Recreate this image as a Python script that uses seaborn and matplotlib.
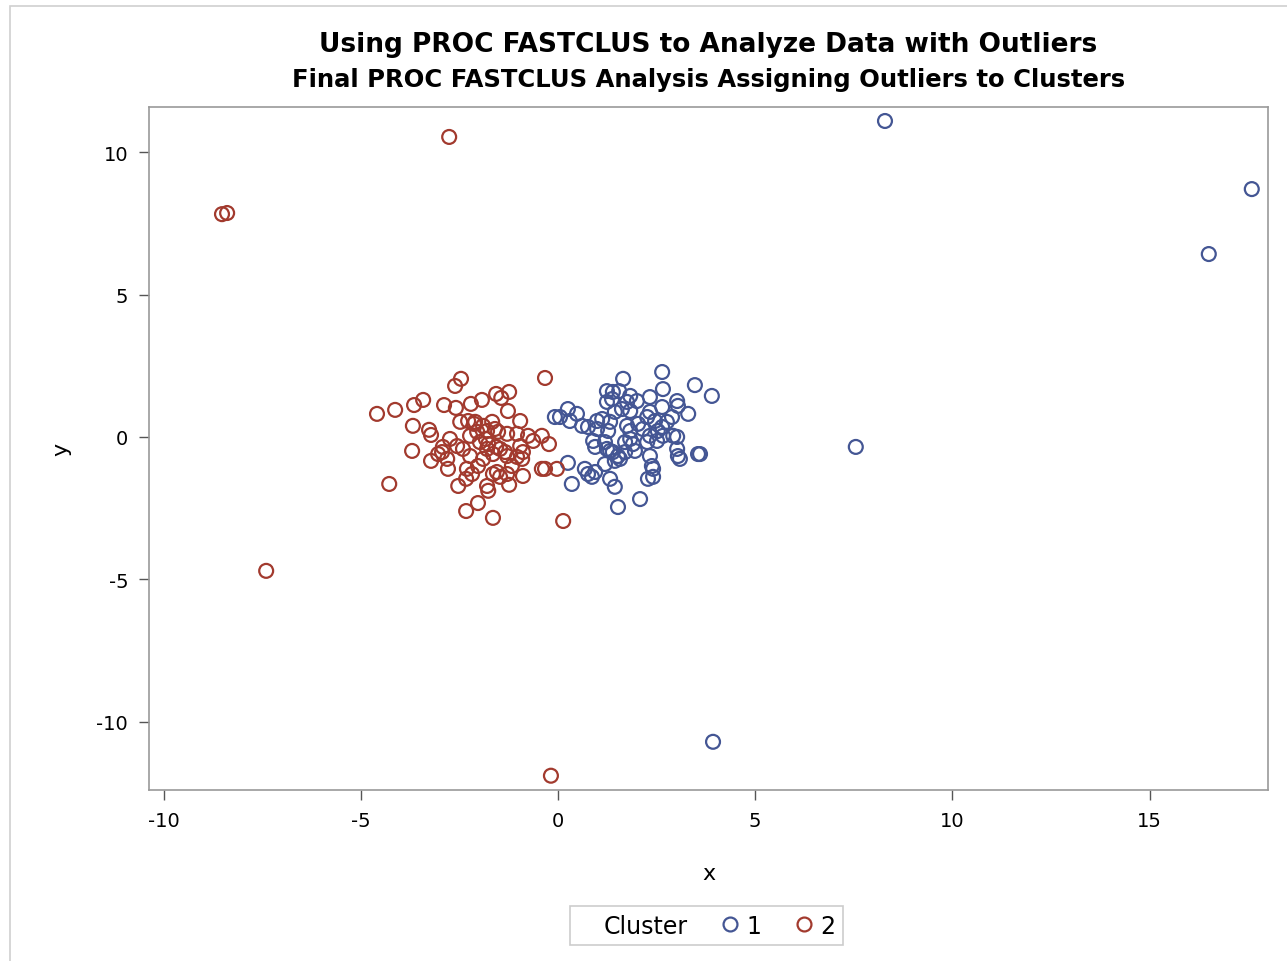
import numpy as np
import pandas as pd
import seaborn as sns
import matplotlib.pyplot as plt
from matplotlib.lines import Line2D
from matplotlib.patches import Rectangle

# dados (cluster 1 = azul, cluster 2 = vermelho)
x1 = [8.29, 17.59, 16.50, 7.55, 3.93,
      2.64, 1.65, 3.47, 3.90, 2.66, 1.24, 1.39, 1.55, 1.24, 1.37, 1.83, 2.00, 1.75, 2.33,
      3.02, 3.04, 3.30, 2.64, 1.62, 1.83, 1.44, -0.08, 0.05, 0.25, 0.48, 0.30, 0.61, 0.76,
      0.99, 1.12, 1.32, 0.99, 1.27, 1.75, 1.83, 2.03, 2.15, 2.26, 2.33, 2.46, 2.53, 2.64,
      2.76, 2.89, 2.66, 2.92, 3.02, 2.33, 2.51, 2.26, 1.83, 1.90, 1.70, 1.95, 0.89, 0.94,
      1.19, 1.24, 1.32, 1.39, 1.52, 1.57, 1.44, 1.70, 3.02, 3.04, 3.09, 3.55, 3.60, 2.33,
      2.38, 2.41, 1.19, 0.68, 0.76, 0.86, 0.94, 0.25, 0.35, 1.32, 1.44, 2.28, 2.41, 2.08,
      1.52]
y1 = [11.09, 8.70, 6.42, -0.35, -10.70,
      2.28, 2.04, 1.82, 1.44, 1.68, 1.61, 1.58, 1.61, 1.23, 1.33, 1.44, 1.26, 1.23, 1.40,
      1.26, 1.09, 0.81, 1.05, 0.98, 0.91, 0.88, 0.70, 0.70, 0.98, 0.81, 0.56, 0.39, 0.35,
      0.56, 0.63, 0.53, 0.28, 0.21, 0.39, 0.21, 0.46, 0.28, 0.70, 0.88, 0.56, 0.21, 0.35,
      0.53, 0.70, 0.04, 0.04, 0.00, 0.04, -0.14, -0.18, -0.07, -0.25, -0.18, -0.49, -0.14, -0.35,
      -0.18, -0.42, -0.49, -0.53, -0.67, -0.77, -0.84, -0.53, -0.42, -0.67, -0.77, -0.60, -0.60, -0.67,
      -1.02, -1.12, -0.95, -1.12, -1.30, -1.40, -1.23, -0.91, -1.65, -1.47, -1.75, -1.47, -1.40, -2.18,
      -2.46]

x2 = [-2.76, -8.52, -8.39, -7.40, -0.18,
      -4.59, -4.13, -3.65, -3.42, -2.89, -2.59, -2.46, -2.61, -2.21, -1.93, -1.57, -1.24, -1.44,
      -1.27, -0.33, -0.96, -3.68, -3.27, -3.22, -3.70, -3.22, -4.28, -2.74, -2.56, -2.41, -2.94,
      -2.81, -2.79, -2.28, -2.10, -1.90, -1.67, -1.60, -2.23, -2.05, -1.80, -1.52, -1.29, -1.04,
      -0.76, -0.63, -0.41, -0.23, -0.96, -0.89, -0.91, -1.04, -1.47, -1.29, -1.17, -1.29, -1.80,
      -1.65, -1.90, -2.23, -2.03, -2.18, -2.31, -2.53, -2.33, -1.80, -1.77, -1.65, -1.47, -1.55,
      -1.24, -0.89, -2.03, -2.33, -1.65, -0.41, -0.33, -0.03, 0.13, -2.48, -2.13, -1.77, -1.98,
      -1.34, -1.57, -3.04, -2.92, -1.83]
y2 = [10.53, 7.82, 7.86, -4.70, -11.89,
      0.81, 0.95, 1.12, 1.30, 1.12, 1.02, 2.04, 1.79, 1.16, 1.30, 1.51, 1.58, 1.37,
      0.91, 2.07, 0.56, 0.39, 0.25, 0.07, -0.49, -0.84, -1.65, -0.07, -0.32, -0.42, -0.53,
      -0.77, -1.12, 0.56, 0.53, 0.39, 0.53, 0.28, 0.04, 0.18, 0.21, 0.18, 0.11, 0.11,
      0.04, -0.14, 0.04, -0.25, -0.32, -0.53, -0.77, -0.70, -0.42, -0.67, -1.02, -1.30, -0.42,
      -0.60, -0.77, -0.67, -1.02, -1.30, -1.12, -1.72, -1.47, -1.72, -1.89, -1.30, -1.40, -1.23,
      -1.68, -1.37, -2.32, -2.60, -2.84, -1.12, -1.12, -1.12, -2.95, 0.53, 0.46, -0.25, -0.18,
      -0.53, -0.35, -0.60, -0.35, -0.07]

df = pd.DataFrame({"x": x1 + x2, "y": y1 + y2,
                   "Cluster": ["1"] * len(x1) + ["2"] * len(x2)})

cores = {"1": "#445694", "2": "#A23A2E"}

plt.rcParams["font.family"] = ["DejaVu Sans"]
plt.rcParams["axes.unicode_minus"] = False
fig = plt.figure(figsize=(12.87, 9.62), dpi=100)
ax = fig.add_axes([0.1158, 0.1778, 0.8694, 0.7099])

for c in ["1", "2"]:
    sub = df[df["Cluster"] == c]
    sns.scatterplot(data=sub, x="x", y="y", ax=ax, marker="o", s=100,
                    facecolor="none", edgecolor=cores[c], linewidth=1.6, legend=False)

ax.set_xlim(-10.37, 18.0)
ax.set_ylim(-12.39, 11.58)
ax.set_xticks([-10, -5, 0, 5, 10, 15])
ax.set_yticks([-10, -5, 0, 5, 10])
ax.tick_params(labelsize=14, length=7, color="#555555", width=1)
ax.tick_params(axis="both", pad=8)
for s in ax.spines.values():
    s.set_color("#9a9a9a")
    s.set_linewidth(1.2)
ax.set_xlabel("x", fontsize=16, labelpad=24)
ax.set_ylabel("y", fontsize=16, labelpad=18)

fig.text(0.5505, 0.953, "Using PROC FASTCLUS to Analyze Data with Outliers",
         ha="center", va="center", fontsize=19, fontweight="bold")
fig.text(0.5505, 0.917, "Final PROC FASTCLUS Analysis Assigning Outliers to Clusters",
         ha="center", va="center", fontsize=17.5, fontweight="bold")

# borda externa
fig.patches.append(Rectangle((10 / 1287, -0.01), 1.0, 1 - 7 / 962 + 0.01,
                             transform=fig.transFigure, fill=False,
                             edgecolor="#d0d0d0", linewidth=1.2))

handles = [Line2D([], [], linestyle="none"),
           Line2D([], [], marker="o", linestyle="none", markerfacecolor="none",
                  markeredgecolor=cores["1"], markersize=10, markeredgewidth=1.6),
           Line2D([], [], marker="o", linestyle="none", markerfacecolor="none",
                  markeredgecolor=cores["2"], markersize=10, markeredgewidth=1.6)]
leg = fig.legend(handles, ["Cluster", "1", "2"], ncol=3, loc="center",
                 bbox_to_anchor=(0.549, 0.0369), fontsize=17, frameon=True,
                 fancybox=False, edgecolor="#c0c0c0", handlelength=0.8,
                 handletextpad=0.3, columnspacing=1.4, borderpad=0.3,
                 borderaxespad=0.0)
leg.get_frame().set_linewidth(1.2)

fig.savefig("out.png", dpi=100)
